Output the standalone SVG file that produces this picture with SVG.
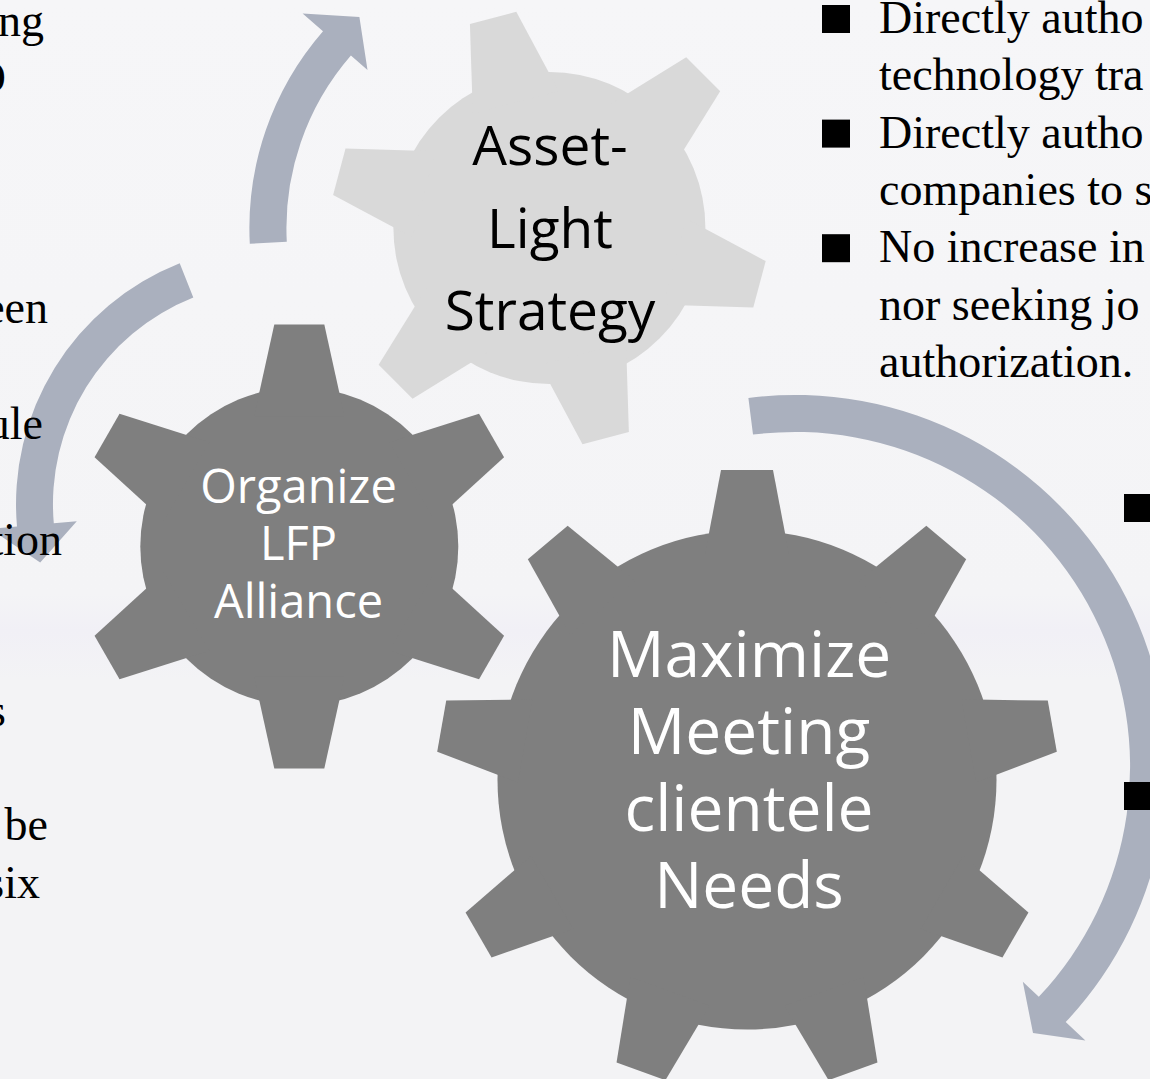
<svg xmlns="http://www.w3.org/2000/svg" xmlns:xlink="http://www.w3.org/1999/xlink" width="1150" height="1079" viewBox="0 0 1150 1079">
<defs>
<style>
.dark{fill:#7f7f7f}
.light{fill:#d9d9d9}
.arrow{fill:#aab0be}
.gtxt{font-family:'Open Sans','Noto Sans',sans-serif;text-anchor:middle}
.white{fill:#ffffff}
.black{fill:#000000}
.body{font-family:'Liberation Serif','Times New Roman',serif;font-size:46px;fill:#000000}
.end{text-anchor:end}
.bullet{fill:#000000}
</style>
<linearGradient id="bgGrad" x1="0" y1="0" x2="0" y2="1">
<stop offset="0" stop-color="#f6f6f8"/>
<stop offset="0.55" stop-color="#f4f4f6"/>
<stop offset="0.585" stop-color="#f1f0f6"/>
<stop offset="0.63" stop-color="#f3f3f5"/>
<stop offset="1" stop-color="#f3f3f5"/>
</linearGradient>
<path id="toothBig" d="M-42.2,-225 L-26,-310 L26,-310 L42.2,-225 Z"/>
<path id="toothSmall" d="M-45.3,-130 L-25,-222 L25,-222 L45.3,-130 Z"/>
<path id="toothLight" d="M-44.5,-130 L-24,-217.5 L24,-217.5 L44.5,-130 Z"/>
</defs>
<rect x="0" y="0" width="1150" height="1079" fill="url(#bgGrad)"/>

<g id="connectors" class="arrow">
<path id="arrow-top" d="M249.8,243.7 A300,300 0 0 1 323.0,31.2 L302.6,13.5 L359.4,17.0 L367.5,69.9 L350.9,55.5 A263,263 0 0 0 286.8,241.8 Z"/>
<path id="arrow-left" d="M179.7,263.2 A259,259 0 0 0 17.0,526.6 L-9.9,528.9 L40.2,562.5 L76.8,521.3 L53.8,523.3 A222,222 0 0 1 193.3,297.6 Z"/>
<path id="arrow-right" d="M748.4,397.9 A372,372 0 0 1 1065.7,1022.1 L1085.4,1040.6 L1033.0,1033.1 L1022.8,981.7 L1038.8,996.8 A335,335 0 0 0 753.0,434.6 Z"/>
</g>

<g id="gear-asset-light" transform="translate(549.4,228)">
<g class="light">
<circle cx="0" cy="0" r="156"/>
<use xlink:href="#toothLight" href="#toothLight" transform="rotate(-15)"/>
<use xlink:href="#toothLight" href="#toothLight" transform="rotate(45)"/>
<use xlink:href="#toothLight" href="#toothLight" transform="rotate(105)"/>
<use xlink:href="#toothLight" href="#toothLight" transform="rotate(165)"/>
<use xlink:href="#toothLight" href="#toothLight" transform="rotate(225)"/>
<use xlink:href="#toothLight" href="#toothLight" transform="rotate(285)"/>
</g>
<text class="gtxt black" font-size="55" x="0.6" y="-63">Asset-</text>
<text class="gtxt black" font-size="55" x="0.6" y="20.3">Light</text>
<text class="gtxt black" font-size="55" x="0.6" y="102">Strategy</text>
</g>

<g id="gear-lfp-alliance" transform="translate(299.3,546.5)">
<g class="dark">
<circle cx="0" cy="0" r="159"/>
<use xlink:href="#toothSmall" href="#toothSmall" transform="rotate(0)"/>
<use xlink:href="#toothSmall" href="#toothSmall" transform="rotate(60)"/>
<use xlink:href="#toothSmall" href="#toothSmall" transform="rotate(120)"/>
<use xlink:href="#toothSmall" href="#toothSmall" transform="rotate(180)"/>
<use xlink:href="#toothSmall" href="#toothSmall" transform="rotate(240)"/>
<use xlink:href="#toothSmall" href="#toothSmall" transform="rotate(300)"/>
</g>
<text class="gtxt white" font-size="47" x="-0.8" y="-44">Organize</text>
<text class="gtxt white" font-size="47" x="-0.8" y="13.5">LFP</text>
<text class="gtxt white" font-size="47" x="-0.8" y="71.8">Alliance</text>
</g>

<g id="gear-clientele-needs" transform="translate(747,780)">
<g class="dark">
<circle cx="0" cy="0" r="249.5"/>
<use xlink:href="#toothBig" href="#toothBig" transform="rotate(0)"/>
<use xlink:href="#toothBig" href="#toothBig" transform="rotate(40)"/>
<use xlink:href="#toothBig" href="#toothBig" transform="rotate(80)"/>
<use xlink:href="#toothBig" href="#toothBig" transform="rotate(120)"/>
<use xlink:href="#toothBig" href="#toothBig" transform="rotate(160)"/>
<use xlink:href="#toothBig" href="#toothBig" transform="rotate(200)"/>
<use xlink:href="#toothBig" href="#toothBig" transform="rotate(240)"/>
<use xlink:href="#toothBig" href="#toothBig" transform="rotate(280)"/>
<use xlink:href="#toothBig" href="#toothBig" transform="rotate(320)"/>
</g>
<text class="gtxt white" font-size="64" x="2" y="-103">Maximize</text>
<text class="gtxt white" font-size="64" x="2" y="-26">Meeting</text>
<text class="gtxt white" font-size="64" x="2" y="51">clientele</text>
<text class="gtxt white" font-size="64" x="2" y="128">Needs</text>
</g>

<g id="left-text" class="body end">
<text x="44" y="36">ng</text>
<text x="6" y="93">O</text>
<text x="48" y="323">een</text>
<text x="43" y="439">ule</text>
<text x="62" y="555">tion</text>
<text x="6" y="726">s</text>
<text x="48" y="840">be</text>
<text x="40" y="898">six</text>
</g>

<g id="right-text" class="body">
<rect class="bullet" x="822" y="5" width="28" height="28"/>
<text x="879" y="33">Directly autho</text>
<text x="879" y="90.3">technology tra</text>
<rect class="bullet" x="822" y="119.6" width="28" height="28"/>
<text x="879" y="147.6">Directly autho</text>
<text x="879" y="205">companies to s</text>
<rect class="bullet" x="822" y="234.2" width="28" height="28"/>
<text x="879" y="262.2">No increase in</text>
<text x="879" y="319.5">nor seeking jo</text>
<text x="879" y="376.8">authorization.</text>
</g>

<g id="right-bullets">
<rect class="bullet" x="1124" y="494" width="28" height="28"/>
<rect class="bullet" x="1124" y="782" width="28" height="28"/>
</g>
</svg>
